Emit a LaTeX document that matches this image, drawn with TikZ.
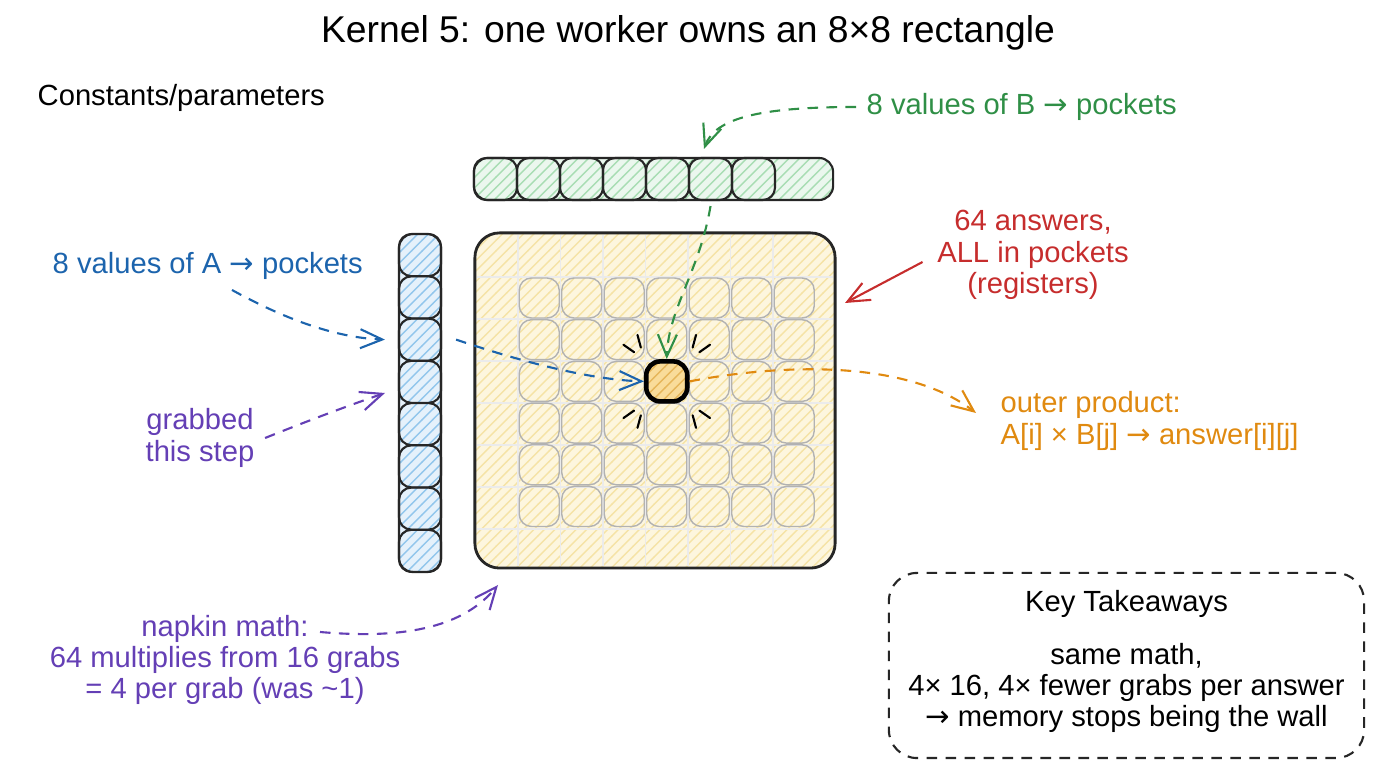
\documentclass[tikz,border=0pt]{standalone}
\usepackage{fontspec}
\setmainfont{Liberation Sans}
\newfontfamily\symfont{DejaVu Sans}
\usetikzlibrary{arrows.meta,patterns,positioning}

\definecolor{inkgreen}{HTML}{2F8F46}
\definecolor{inkblue}{HTML}{1C64AD}
\definecolor{inkred}{HTML}{C62D2D}
\definecolor{inkpurple}{HTML}{643FB5}
\definecolor{inkorange}{HTML}{E08A10}
\definecolor{fillgreen}{HTML}{EBF7EE}
\definecolor{hatchgreen}{HTML}{A8DDB3}
\definecolor{fillblue}{HTML}{E5F1FB}
\definecolor{hatchblue}{HTML}{92C6EC}
\definecolor{fillyellow}{HTML}{FDF6DE}
\definecolor{hatchyellow}{HTML}{F5E3A6}
\definecolor{fillhot}{HTML}{F9DC9A}
\definecolor{hatchhot}{HTML}{E6B65A}

\newcommand{\ra}{{\symfont →}}

\begin{document}
\begin{tikzpicture}[x=0.01cm, y=-0.01cm,
        txt/.style={font=\fontsize{8.3}{8.9}\selectfont, align=center, inner sep=0pt},
        bar/.style={draw=black!85, semithick, rounded corners=4pt},
        barcell/.style={draw=black!85, semithick, rounded corners=3.5pt, minimum width=0.43cm, minimum height=0.42cm, inner sep=0pt},
        slot/.style={draw=black!30, rounded corners=3.5pt, minimum width=0.40cm, minimum height=0.40cm, inner sep=0pt},
        gridline/.style={draw=black!8, line width=0.5pt},
        spark/.style={draw=black, semithick, line cap=round},
        dashy/.style={dash pattern=on 3pt off 2.4pt, semithick},
        tip/.style={-{Straight Barb[length=2.2mm, width=1.9mm]}},
    ]
        \useasboundingbox (0,0) rectangle (1376,768);

        % title and heading
        \node[txt, font=\fontsize{10.6}{12}\selectfont] (title) at (688,33) {Kernel 5: one worker owns an 8×8 rectangle};
        \node[txt, anchor=west] (consts) at (37,98) {Constants/parameters};

        % B values along the top
        \node[bar, minimum width=3.59cm, minimum height=0.42cm, preaction={fill=fillgreen}, pattern=north east lines, pattern color=hatchgreen] (bbar) at (653.5,179) {};
        \foreach \i in {0,...,6}
            \node[barcell] (b\i) at ({495.5+43*\i},179) {};

        % A values down the side
        \node[bar, minimum width=0.42cm, minimum height=3.38cm, preaction={fill=fillblue}, pattern=north east lines, pattern color=hatchblue] (abar) at (420,403) {};
        \foreach \i in {0,...,7}
            \node[barcell, minimum width=0.42cm] (a\i) at (420,{255.1+42.25*\i}) {};

        % the 8x8 tile of answers
        \node[draw=black!85, thick, rounded corners=7pt, minimum width=3.60cm, minimum height=3.35cm, preaction={fill=fillyellow}, pattern=north east lines, pattern color=hatchyellow] (tile) at (655,400.5) {};
        \foreach \k in {0,...,6} {
            \draw[gridline] ({518+42.5*\k},235) -- ({518+42.5*\k},566);
            \draw[gridline] (477,{277+42*\k}) -- (833,{277+42*\k});
        }
        \foreach \r in {0,...,5}
            \foreach \c in {0,...,6}
                \node[slot] (s\r\c) at ({539.25+42.5*\c},{298+41.7*\r}) {};
        \node[draw=black, line width=1.3pt, rounded corners=4pt, minimum width=0.41cm, minimum height=0.40cm, preaction={fill=fillhot}, pattern=north east lines, pattern color=hatchhot] (hot) at (s23) {};
        \foreach \corner/\ang in {north west/125, north east/55, south west/235, south east/305}
            \foreach \d in {-20,20}
                \draw[spark] ([shift={(\ang+\d:0.12cm)}]hot.\corner) -- ([shift={(\ang+\d:0.25cm)}]hot.\corner);

        % labels
        \node[txt, text=inkgreen, anchor=west] (blabel) at (866,107) {8 values of B \ra{} pockets};
        \node[txt, text=inkblue, anchor=west] (alabel) at (52,266) {8 values of A \ra{} pockets};
        \node[txt, text=inkred] (rlabel) at (1033,255) {64 answers,\\ALL in pockets\\(registers)};
        \node[txt, text=inkpurple] (glabel) at (200,438) {grabbed\\this step};
        \node[txt, text=inkorange, align=left, anchor=west] (olabel) at (1000,421) {outer product:\\A[i] × B[j] \ra{} answer[i][j]};
        \node[txt, text=inkpurple] (nlabel) at (225,660) {napkin math:\\64 multiplies from 16 grabs\\= 4 per grab (was \textasciitilde1)};

        % free arrow ends
        \coordinate (btip) at (704,149);
        \coordinate (astart) at (232,290);
        \coordinate (gtip) at (385,393);
        \coordinate (rtip) at (845,303);
        \coordinate (nstart) at (320,632);
        \coordinate (ntip) at (498,585);

        % connectors
        \draw[dashy, tip, inkgreen] ([xshift=-0.1cm]blabel.west) .. controls (760,107) and (715,118) .. (btip);
        \draw[dashy, tip, inkgreen] ([yshift=-0.05cm]b5.south) .. controls (700,270) and (668,310) .. (hot.north);
        \draw[dashy, tip, inkblue] (astart) .. controls (290,322) and (340,338) .. ([xshift=-0.13cm]a2.west);
        \draw[dashy, tip, inkblue] ([xshift=0.14cm]a2.east) .. controls (540,368) and (600,380) .. (hot.west);
        \draw[semithick, tip, inkred] ([xshift=-0.14cm, yshift=-0.07cm]rlabel.west) -- (rtip);
        \draw[dashy, tip, inkpurple] ([xshift=0.1cm]glabel.east) .. controls (310,420) and (350,405) .. (gtip);
        \draw[dashy, tip, inkorange] (hot.east) .. controls (790,362) and (910,362) .. ([shift={(-0.24cm,0.08cm)}]olabel.west);
        \draw[dashy, tip, inkpurple] (nstart) .. controls (410,640) and (465,625) .. (ntip);

        % takeaways box
        \node[draw=black!85, dashy, rounded corners=8pt, minimum width=4.75cm, minimum height=1.85cm] (keybox) at (1126.5,665.5) {};
        \node[txt] (keyhead) at (1126.5,604) {Key Takeaways};
        \node[txt] (keybody) at (1126.5,688) {same math,\\4× 16, 4× fewer grabs per answer\\\ra{} memory stops being the wall};
    \end{tikzpicture}
\end{document}
